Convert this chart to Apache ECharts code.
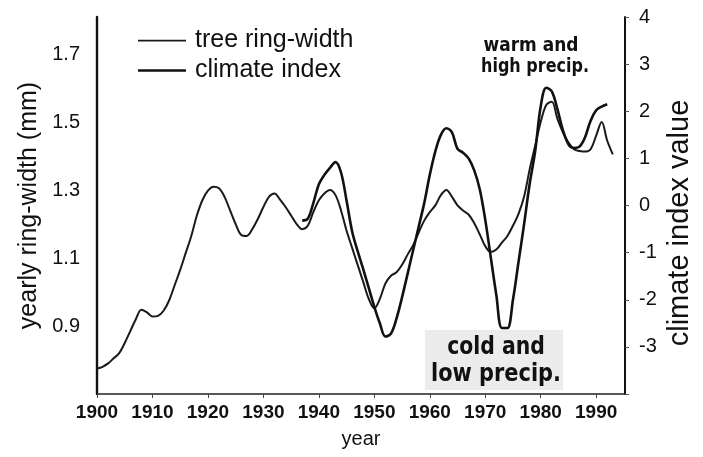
<!DOCTYPE html>
<html>
<head>
<meta charset="utf-8">
<script src="https://cdn.jsdelivr.net/npm/echarts@6/dist/echarts.min.js"></script>
<style>
html,body{margin:0;padding:0;background:#fff;}
#chart{width:703px;height:457px;}
</style>
</head>
<body>
<div id="chart"></div>
<script>
// ---- data ----
const treeYears = [];
for (let y = 1900; y <= 1993; y++) treeYears.push(y);
const treeRingWidth = [
  0.775,0.78,0.79,0.805,0.82,0.85,0.885,0.92,0.948,0.94,
  0.928,0.93,0.945,0.975,1.02,1.065,1.115,1.165,1.225,1.27,
  1.298,1.31,1.305,1.28,1.24,1.2,1.168,1.165,1.185,1.215,
  1.25,1.28,1.29,1.272,1.25,1.225,1.2,1.185,1.195,1.235,
  1.27,1.29,1.30,1.285,1.24,1.18,1.13,1.08,1.03,0.98,
  0.952,0.98,1.025,1.048,1.058,1.08,1.11,1.138,1.175,1.21,
  1.235,1.255,1.285,1.30,1.28,1.255,1.24,1.228,1.203,1.17,
  1.135,1.118,1.125,1.145,1.165,1.195,1.23,1.28,1.36,1.43,
  1.50,1.55,1.56,1.51,1.47,1.44,1.42,1.415,1.413,1.42,
  1.46,1.50,1.445,1.405
];
const climateYears = [];
for (let y = 1937; y <= 1992; y++) climateYears.push(y);
const climateIndex = [
  -0.32,-0.28,0.05,0.45,0.65,0.8,0.92,0.7,0.1,-0.55,
  -0.97,-1.35,-1.75,-2.15,-2.5,-2.78,-2.72,-2.4,-1.95,-1.45,
  -0.95,-0.45,0.05,0.65,1.15,1.5,1.64,1.55,1.2,1.12,
  1.0,0.75,0.35,-0.3,-1.1,-1.9,-2.6,-2.6,-2.0,-1.2,
  -0.4,0.45,1.15,2.1,2.5,2.42,2.05,1.6,1.3,1.22,
  1.25,1.45,1.8,2.02,2.1,2.15
];
const xTicks = [1900,1910,1920,1930,1940,1950,1960,1970,1980,1990];
const leftTickLabels = [0.9,1.1,1.3,1.5,1.7];
const rightTickLabels = [-3,-2,-1,0,1,2,3,4];

const treeData = treeYears.map((y,i)=>[y, treeRingWidth[i]]);
const climData = climateYears.map((y,i)=>[y, climateIndex[i]]);

const chart = echarts.init(document.getElementById('chart'), null, {renderer:'canvas'});
const ink = '#111';
const sans = 'Liberation Sans, Arial, Helvetica, sans-serif';
const heavy = '"DejaVu Sans", sans-serif';

// legend line icons (thin / thick) drawn inside a 48x14 box
const thinIcon = 'path://M0,0h48v0.01h-48z M0,6.2h48v1.8h-48z M0,13.99h48v0.01h-48z';
const thickIcon = 'path://M0,0h48v0.01h-48z M0,5.7h48v2.6h-48z M0,13.99h48v0.01h-48z';

chart.setOption({
  animation: false,
  backgroundColor: '#ffffff',
  grid: {left: 97, right: 78, top: 17, bottom: 63, containLabel: false},
  legend: {
    orient: 'vertical', left: 133, top: 23, itemWidth: 48, itemHeight: 14, itemGap: 5,
    textStyle: {fontFamily: sans, fontSize: 25, lineHeight: 25, color: ink, padding:[0,0,0,4]},
    data: [
      {name: 'tree ring-width', icon: thinIcon, itemStyle: {color: '#1a1a1a'}},
      {name: 'climate index', icon: thickIcon, itemStyle: {color: '#111'}}
    ]
  },
  xAxis: {
    type: 'value', min: 1900, max: 1995.2, interval: 10,
    axisLine: {show: true, onZero: false, lineStyle: {color: '#222', width: 1.5}},
    axisTick: {show: true, length: 4, lineStyle: {color: '#444'}},
    splitLine: {show: false},
    axisLabel: {
      margin: 9, fontFamily: sans, fontWeight: 'bold', fontSize: 19, color: ink,
      showMaxLabel: false,
      formatter: v => xTicks.includes(v) ? String(v) : ''
    },
    name: 'year', nameLocation: 'middle', nameGap: 35,
    nameTextStyle: {fontFamily: sans, fontSize: 20, color: ink}
  },
  yAxis: [
    {
      type: 'value', min: 0.7, max: 1.809, interval: 0.1, position: 'left',
      axisLine: {show: true, onZero: false, lineStyle: {color: ink, width: 2.4}},
      axisTick: {show: false},
      splitLine: {show: false},
      axisLabel: {
        margin: 17, fontFamily: sans, fontSize: 20, color: ink,
        formatter: v => {
          const m = leftTickLabels.find(t => Math.abs(t - v) < 1e-6);
          return m !== undefined ? m.toFixed(1) : '';
        }
      },
      name: 'yearly ring-width (mm)', nameLocation: 'middle', nameGap: 54, nameRotate: 90,
      nameTextStyle: {fontFamily: sans, fontSize: 25, color: ink}
    },
    {
      type: 'value', min: -4, max: 4, interval: 1, position: 'right',
      axisLine: {show: true, onZero: false, lineStyle: {color: ink, width: 2}},
      axisTick: {show: true, length: 4, lineStyle: {color: '#555'}},
      splitLine: {show: false},
      axisLabel: {
        margin: 14, fontFamily: sans, fontSize: 20, color: ink,
        formatter: v => rightTickLabels.includes(v) ? String(v) : ''
      }
    }
  ],
  series: [
    {
      name: 'tree ring-width', type: 'line', yAxisIndex: 0, data: treeData,
      smooth: 0.35, symbol: 'none', lineStyle: {color: '#1a1a1a', width: 2},
      itemStyle: {color: '#1a1a1a'}, z: 3
    },
    {
      name: 'climate index', type: 'line', yAxisIndex: 1, data: climData,
      smooth: 0.35, symbol: 'none', lineStyle: {color: '#111', width: 2.6},
      itemStyle: {color: '#111'}, z: 4
    }
  ],
  graphic: [
    {type: 'text', x: 680, y: 223, rotation: Math.PI / 2, style: {text: 'climate index value', font: '29px ' + sans, fill: ink, textAlign: 'center', textVerticalAlign: 'middle'}, z: 10},
    {type: 'rect', left: 425, top: 330, shape: {width: 138, height: 60}, style: {fill: '#ececec'}, z: 1},
    {type: 'text', x: 496, y: 348, scaleX: 0.85, style: {text: 'cold and', font: 'bold 24px ' + heavy, fill: ink, textAlign: 'center', textVerticalAlign: 'middle'}, z: 10},
    {type: 'text', x: 496, y: 375, scaleX: 0.87, style: {text: 'low precip.', font: 'bold 24px ' + heavy, fill: ink, textAlign: 'center', textVerticalAlign: 'middle'}, z: 10},
    {type: 'text', x: 531, y: 46, scaleX: 0.85, style: {text: 'warm and', font: 'bold 20px ' + heavy, fill: ink, textAlign: 'center', textVerticalAlign: 'middle'}, z: 10},
    {type: 'text', x: 535, y: 67, scaleX: 0.8, style: {text: 'high precip.', font: 'bold 20px ' + heavy, fill: ink, textAlign: 'center', textVerticalAlign: 'middle'}, z: 10}
  ]
});
</script>
</body>
</html>
